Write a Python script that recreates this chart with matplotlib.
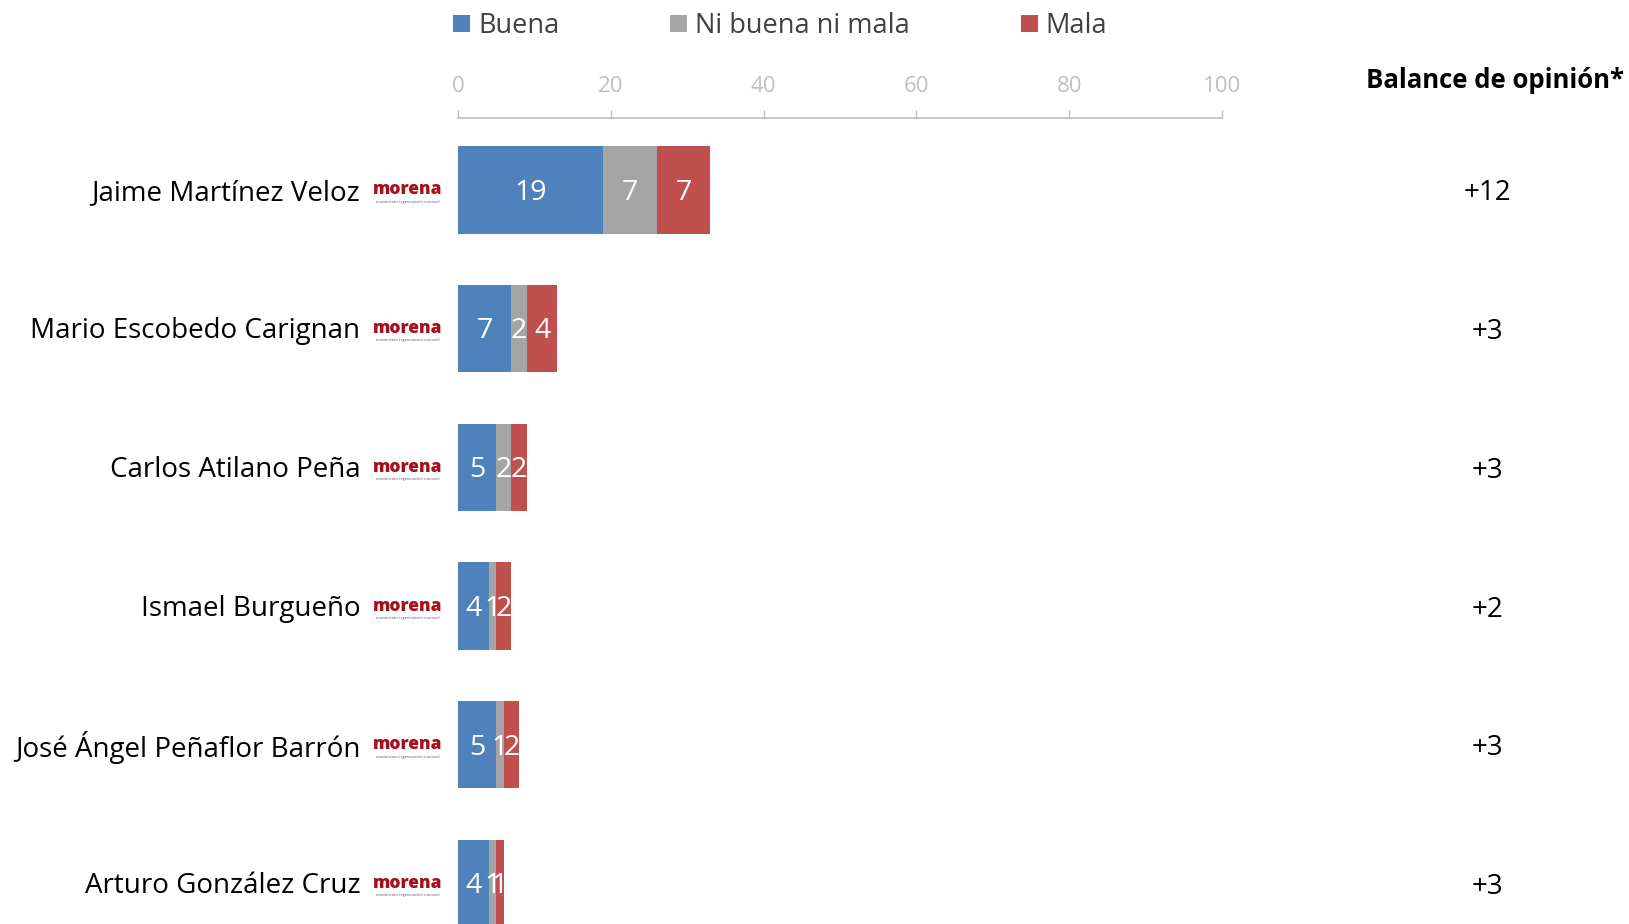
import matplotlib
matplotlib.use("Agg")
import matplotlib.pyplot as plt
import numpy as np

plt.rcParams['font.family'] = ['Open Sans', 'DejaVu Sans']

# data
candidatos = ["Jaime Martínez Veloz", "Mario Escobedo Carignan", "Carlos Atilano Peña",
              "Ismael Burgueño", "José Ángel Peñaflor Barrón", "Arturo González Cruz"]
buena = [19, 7, 5, 4, 5, 4]
ni_buena = [7, 2, 2, 1, 1, 1]
mala = [7, 4, 2, 2, 2, 1]
balance = ["+12", "+3", "+3", "+2", "+3", "+3"]
series = ["Buena", "Ni buena ni mala", "Mala"]
colores = ["#4f81bd", "#a5a5a5", "#c0504d"]

W, H = 1629, 924
fig = plt.figure(figsize=(W / 100, H / 100), dpi=100)
ax = fig.add_axes([458 / W, 0, 764 / W, 806 / H])

y = np.arange(len(candidatos))
alto = 0.63
left = np.zeros(len(candidatos))
for nombre, vals, c in zip(series, [buena, ni_buena, mala], colores):
    vals = np.array(vals)
    bars = ax.barh(y, vals, left=left, height=alto, color=c, label=nombre, zorder=2)
    for b, v in zip(bars, vals):
        ax.text(b.get_x() + b.get_width() / 2, b.get_y() + b.get_height() / 2 + 0.02, str(v),
                ha='center', va='center', color='white', fontsize=20.5, zorder=3)
    left = left + vals

ax.set_xlim(0, 100)
ax.set_ylim(5.292, -0.519)
ax.xaxis.tick_top()
ax.set_xticks([0, 20, 40, 60, 80, 100])
ax.tick_params(axis='x', colors='#bfbfbf', labelcolor='#bfbfbf', labelsize=16,
               length=6, width=1, pad=9)
ax.set_yticks([])
for s in ['left', 'right', 'bottom']:
    ax.spines[s].set_visible(False)
ax.spines['top'].set_color('#bfbfbf')
ax.spines['top'].set_linewidth(1.2)

# candidate names and party logos
for i, n in enumerate(candidatos):
    ax.text(-12.8, i + 0.02, n, ha='right', va='center', fontsize=20, color='black', clip_on=False)
    ax.text(-6.6, i + 0.0, "morena", ha='center', va='center', fontsize=12.5,
            fontweight='heavy', color='#a80f1c', clip_on=False)
    ax.text(-6.6, i + 0.085, "movimiento regeneración nacional", ha='center', va='center',
            fontsize=2.8, color='#555555', clip_on=False)
    ax.text(134.8, i + 0.025, balance[i], ha='center', va='center', fontsize=20,
            color='black', clip_on=False)

fig.text(1624 / W, 1 - 81 / H, "Balance de opinión*", ha='right', va='center',
         fontsize=18.5, fontweight='bold', color='black')

leg = fig.legend(loc='center left', bbox_to_anchor=(453 / W, 1 - 26 / H), ncol=3,
                 frameon=False, fontsize=19.5, handlelength=0.62, handleheight=0.62,
                 handletextpad=0.3, columnspacing=4.1, borderpad=0, borderaxespad=0)
for t in leg.get_texts():
    t.set_color('#404040')

fig.savefig("out.png", dpi=100)
